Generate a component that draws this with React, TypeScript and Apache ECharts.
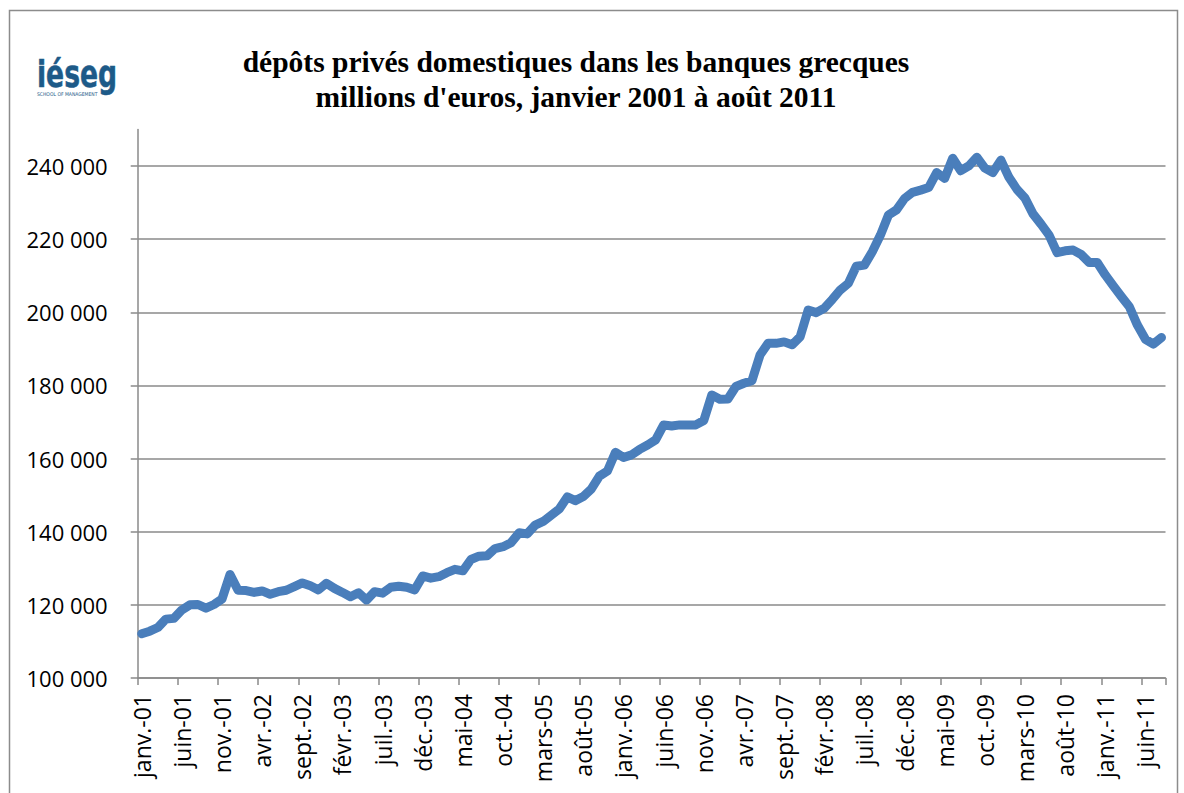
import React, { useEffect, useRef } from "react";
import * as echarts from "echarts";

const monthAbbr = ["janv.", "févr.", "mars", "avr.", "mai", "juin", "juil.", "août", "sept.", "oct.", "nov.", "déc."];
const startYear = 2001;
const monthCount = 128; // janvier 2001 à août 2011

const categories: string[] = [];
for (let i = 0; i < monthCount; i++) {
  const y = startYear + Math.floor(i / 12);
  categories.push(monthAbbr[i % 12] + "-" + String(y % 100).padStart(2, "0"));
}

const deposits2001_2003 = [
  112100, 112800, 113800, 116100, 116300, 118600, 120000, 120100, 119100, 120100, 121600, 128300,
  124000, 123900, 123400, 123800, 122900, 123600, 124000, 125000, 126000, 125200, 124100, 125900,
  124500, 123400, 122200, 123300, 121300, 123600, 123200, 124800, 125100, 124800, 124100, 127900,
];
const deposits2004_2006 = [
  127300, 127700, 128800, 129700, 129300, 132400, 133300, 133400, 135400, 135900, 137000, 139700,
  139400, 141800, 142800, 144500, 146200, 149500, 148500, 149600, 151700, 155200, 156600, 161700,
  160300, 161000, 162500, 163700, 165100, 169200, 168900, 169200, 169200, 169200, 170400, 177400,
];
const deposits2007_2009 = [
  176200, 176300, 179700, 180600, 181300, 188300, 191500, 191500, 191900, 191100, 193300, 200600,
  199900, 201100, 203500, 206100, 207900, 212600, 212900, 216600, 221100, 226600, 228000, 231100,
  232800, 233400, 234100, 238200, 236600, 242100, 238700, 240000, 242400, 239400, 238200, 241600,
];
const deposits2010_2011 = [
  236900, 233600, 231200, 226900, 224100, 221100, 216300, 216800, 217000, 215800, 213600, 213600,
  210200, 207200, 204300, 201500, 196500, 192600, 191300, 193100,
];
const deposits = [...deposits2001_2003, ...deposits2004_2006, ...deposits2007_2009, ...deposits2010_2011];

const yMin = 100000;
const yMax = 250000;
const yStep = 20000;
const yTickValues = [100000, 120000, 140000, 160000, 180000, 200000, 220000, 240000];

const titleLines = [
  "dépôts privés domestiques dans les banques grecques",
  "millions d'euros, janvier 2001 à août 2011",
];

const fmt = (v: number) => {
  const s = String(Math.round(v));
  return s.replace(/\B(?=(\d{3})+(?!\d))/g, " ");
};

export default function App() {
  const ref = useRef<HTMLDivElement>(null);
  useEffect(() => {
    if (!ref.current) return;
    const chart = echarts.init(ref.current, null, { renderer: "svg" });
    const axisGray = "#8a8a8a";
    const labelFont = "'Open Sans', 'Noto Sans', sans-serif";
    chart.setOption({
      animation: false,
      backgroundColor: "#ffffff",
      grid: { left: 137.7, right: 18.5, top: 129.4, bottom: 115, containLabel: false },
      graphic: [
        {
          type: "rect",
          shape: { x: 9.5, y: 10.5, width: 1168, height: 820 },
          style: { fill: "none", stroke: "#8c8c8c", lineWidth: 1.5 },
          silent: true,
        },
        {
          type: "text",
          x: 37,
          y: 74,
          scaleX: 0.7,
          style: {
            text: "iéseg",
            font: "900 38px 'DejaVu Sans', sans-serif",
            fill: "#1d5a88",
            stroke: "#1d5a88",
            lineWidth: 0.6,
            textVerticalAlign: "middle",
          },
        },
        {
          type: "text",
          x: 37,
          y: 92,
          scaleX: 0.9,
          style: {
            text: "SCHOOL OF MANAGEMENT",
            font: "5px 'DejaVu Sans', sans-serif",
            fill: "#1d5a88",
          },
        },
        {
          type: "text",
          x: 576,
          y: 62,
          style: {
            text: titleLines[0],
            font: "bold 29.5px 'Liberation Serif', 'Times New Roman', serif",
            fill: "#000000",
            textAlign: "center",
            textVerticalAlign: "middle",
          },
        },
        {
          type: "text",
          x: 576,
          y: 97,
          style: {
            text: titleLines[1],
            font: "bold 29.5px 'Liberation Serif', 'Times New Roman', serif",
            fill: "#000000",
            textAlign: "center",
            textVerticalAlign: "middle",
          },
        },
      ],
      xAxis: {
        type: "category",
        data: categories,
        boundaryGap: true,
        axisLine: { show: true, lineStyle: { color: axisGray, width: 1.5 } },
        axisTick: { show: true, interval: 4, length: 7, lineStyle: { color: axisGray, width: 1.5 } },
        axisLabel: {
          interval: 4,
          rotate: 90,
          margin: 16,
          color: "#000000",
          fontSize: 23,
          fontFamily: labelFont,
        },
        splitLine: { show: false },
      },
      yAxis: {
        type: "value",
        min: yMin,
        max: yMax,
        interval: yStep,
        axisLine: { show: true, lineStyle: { color: axisGray, width: 1.5 } },
        axisTick: {
          show: true,
          length: 7,
          lineStyle: { color: axisGray, width: 1.5 },
          customValues: yTickValues,
        },
        axisLabel: {
          color: "#000000",
          fontSize: 22,
          fontFamily: labelFont,
          margin: 30,
          customValues: yTickValues,
          formatter: (v: number) => fmt(v),
        },
        splitLine: { show: true, lineStyle: { color: axisGray, width: 1.5 } },
      },
      series: [
        {
          type: "line",
          data: deposits,
          showSymbol: false,
          symbol: "none",
          lineStyle: { color: "#4a7ebb", width: 9, cap: "round", join: "round" },
          itemStyle: { color: "#4a7ebb" },
        },
      ],
    });
    return () => chart.dispose();
  }, []);
  return (
    <div
      ref={ref}
      style={{ position: "fixed", left: 0, top: 0, width: 1184, height: 793, background: "#fff" }}
    />
  );
}
